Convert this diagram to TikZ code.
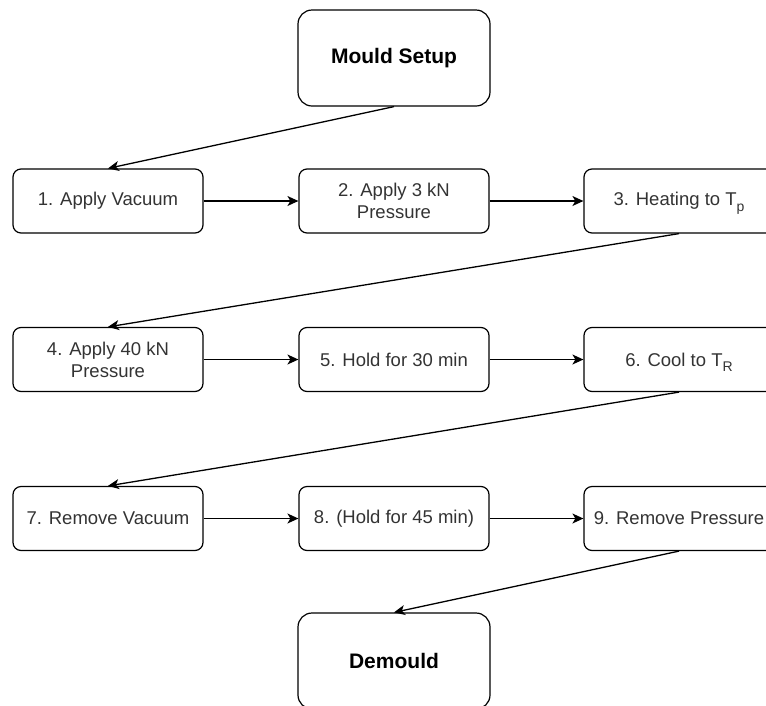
\documentclass[tikz,border=0pt]{standalone}
\usepackage{fontspec}
\setmainfont{Liberation Sans}
\usetikzlibrary{arrows.meta}
\definecolor{txtgray}{HTML}{333333}
\newcommand\lowsub[1]{\smash{\raisebox{-0.3em}{\fontsize{14}{14}\selectfont #1}}}
\begin{document}
\begin{tikzpicture}[x=1pt,y=-1pt,
  stagebox/.style={draw, line width=1.2pt, rounded corners=8pt, minimum width=190pt,
    minimum height=64pt, inner sep=0pt, align=center, text=txtgray,
    font=\fontsize{18.5}{22}\selectfont},
  endbox/.style={draw, line width=1.2pt, rounded corners=14pt, minimum width=192pt,
    minimum height=96pt, inner sep=0pt, font=\bfseries\fontsize{21}{24}\selectfont},
  flow/.style={-{Stealth[length=11pt,width=10pt,inset=3pt]}, line width=1.3pt}]
\useasboundingbox (0,0) rectangle (766,705);
\clip (0,0) rectangle (766,705);

\node[endbox] (setup) at (394,58) {Mould Setup};

\node[stagebox] (s1) at (108,201) {1. Apply Vacuum};
\node[stagebox] (s2) at (394,201) {2. Apply 3 kN\\Pressure};
\node[stagebox] (s3) at (679,201) {3. Heating to T\lowsub{p}};

\node[stagebox] (s4) at (108,359.5) {4. Apply 40 kN\\Pressure};
\node[stagebox] (s5) at (394,359.5) {5. Hold for 30 min};
\node[stagebox] (s6) at (679,359.5) {6. Cool to T\lowsub{R}};

\node[stagebox] (s7) at (108,518.5) {7. Remove Vacuum};
\node[stagebox] (s8) at (394,518.5) {8. (Hold for 45 min)};
\node[stagebox] (s9) at (679,518.5) {9. Remove Pressure};

\node[endbox] (demould) at (394,661) {Demould};

\draw[flow] (setup.south) -- (s1.north);
\draw[flow] (s1) -- (s2);
\draw[flow] (s2) -- (s3);
\draw[flow] (s3.south) -- (s4.north);
\draw[flow] (s4) -- (s5);
\draw[flow] (s5) -- (s6);
\draw[flow] (s6.south) -- (s7.north);
\draw[flow] (s7) -- (s8);
\draw[flow] (s8) -- (s9);
\draw[flow] (s9.south) -- (demould.north);
\end{tikzpicture}
\end{document}
